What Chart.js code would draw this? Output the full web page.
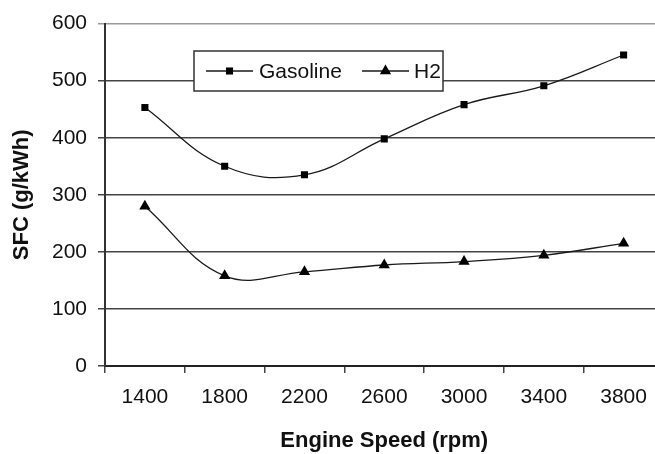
<!DOCTYPE html>
<html>
<head>
<meta charset="utf-8">
<title>SFC vs Engine Speed</title>
<script src="https://cdn.jsdelivr.net/npm/chart.js@4.4.0/dist/chart.umd.min.js"></script>
<style>
  html, body { margin: 0; padding: 0; background: #fff; overflow: hidden; }
  canvas { display: block; }
</style>
</head>
<body>
<canvas id="sfcChart" width="670" height="454"></canvas>
<script>
const speeds = ["1400", "1800", "2200", "2600", "3000", "3400", "3800"];
const gasolineSfc = [453, 350, 335, 398, 458, 491, 545];
const hydrogenSfc = [280, 158, 165, 177, 183, 194, 215];
const sfcTicks = [0, 100, 200, 300, 400, 500, 600];

const fontFamily = "'Liberation Sans', Arial, sans-serif";
const inkColor = "#111";
const gridColor = "#444";

// boxed legend sitting inside the plot, like a spreadsheet chart
const boxLegend = {
  id: "boxLegend",
  afterDraw(chart) {
    const ctx = chart.ctx;
    const box = { x: 194, y: 51, w: 249, h: 40 };
    const midY = box.y + box.h / 2;

    ctx.save();
    ctx.fillStyle = "#fff";
    ctx.fillRect(box.x, box.y, box.w, box.h);
    ctx.strokeStyle = "#333";
    ctx.lineWidth = 1.5;
    ctx.strokeRect(box.x, box.y, box.w, box.h);

    const items = [
      { ds: chart.data.datasets[0], lineX: 206, textX: 259 },
      { ds: chart.data.datasets[1], lineX: 362, textX: 414 },
    ];

    items.forEach(({ ds, lineX, textX }) => {
      ctx.strokeStyle = ds.borderColor;
      ctx.lineWidth = ds.borderWidth;
      ctx.beginPath();
      ctx.moveTo(lineX, midY);
      ctx.lineTo(lineX + 47, midY);
      ctx.stroke();

      const cx = lineX + 23.5;
      const r = ds.pointRadius;
      ctx.fillStyle = ds.pointBackgroundColor;
      ctx.beginPath();
      if (ds.pointStyle === "rect") {
        const s = Math.SQRT1_2 * r;
        ctx.rect(cx - s, midY - s, 2 * s, 2 * s);
      } else {
        ctx.moveTo(cx, midY - r);
        ctx.lineTo(cx + 0.866 * r, midY + 0.5 * r);
        ctx.lineTo(cx - 0.866 * r, midY + 0.5 * r);
        ctx.closePath();
      }
      ctx.fill();

      ctx.fillStyle = inkColor;
      ctx.font = "21px " + fontFamily;
      ctx.textBaseline = "middle";
      ctx.textAlign = "left";
      ctx.fillText(ds.label, textX, midY + 1);
    });
    ctx.restore();
  },
};

new Chart(document.getElementById("sfcChart"), {
  type: "line",
  data: {
    labels: speeds,
    datasets: [
      {
        label: "Gasoline",
        data: gasolineSfc,
        borderColor: "#1a1a1a",
        borderWidth: 1.3,
        tension: 0.4,
        pointStyle: "rect",
        pointRadius: 5,
        pointBackgroundColor: "#000",
        pointBorderWidth: 0,
      },
      {
        label: "H2",
        data: hydrogenSfc,
        borderColor: "#1a1a1a",
        borderWidth: 1.3,
        tension: 0.4,
        pointStyle: "triangle",
        pointRadius: 6.5,
        pointBackgroundColor: "#000",
        pointBorderWidth: 0,
      },
    ],
  },
  options: {
    responsive: false,
    animation: false,
    layout: { padding: { top: 22, right: 5, left: 0, bottom: 0 } },
    plugins: {
      legend: { display: false },
      tooltip: { enabled: false },
    },
    scales: {
      x: {
        offset: true,
        afterFit: (scale) => { scale.height = 88; },
        grid: {
          offset: true,
          drawOnChartArea: false,
          drawTicks: true,
          tickLength: 7,
          color: gridColor,
          lineWidth: 1.5,
        },
        border: { color: "#222", width: 2 },
        ticks: {
          color: inkColor,
          font: { family: fontFamily, size: 21 },
          padding: 12,
          maxRotation: 0,
        },
        title: {
          display: true,
          text: "Engine Speed (rpm)",
          color: inkColor,
          font: { family: fontFamily, size: 22, weight: "bold" },
          padding: { top: 3, bottom: 0 },
        },
      },
      y: {
        min: 0,
        max: 600,
        afterFit: (scale) => { scale.width = 105; },
        afterBuildTicks: (scale) => {
          scale.ticks = sfcTicks.map((v) => ({ value: v }));
        },
        grid: {
          drawTicks: true,
          tickLength: 7,
          color: (c) => (c.tick && c.tick.value === 600 ? "#999" : gridColor),
          lineWidth: 1.5,
        },
        border: { color: "#333", width: 2 },
        ticks: {
          color: inkColor,
          font: { family: fontFamily, size: 21 },
          padding: 11,
        },
        title: {
          display: true,
          text: "SFC (g/kWh)",
          color: inkColor,
          font: { family: fontFamily, size: 22, weight: "bold" },
          padding: { top: 9, bottom: 0 },
        },
      },
    },
  },
  plugins: [boxLegend],
});
</script>
</body>
</html>
